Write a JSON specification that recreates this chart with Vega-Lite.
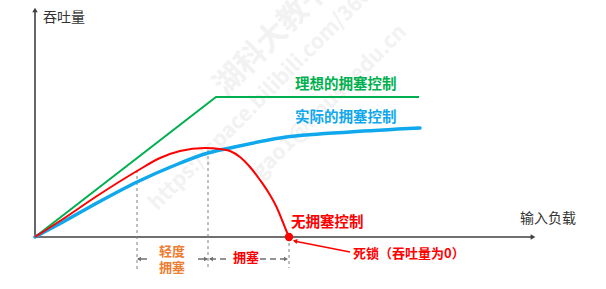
{
  "$schema": "https://vega.github.io/schema/vega-lite/v6.json",
  "width": 606,
  "height": 289,
  "autosize": "none",
  "padding": 0,
  "background": "white",
  "config": {"view": {"stroke": null}, "text": {"font": "Noto Sans CJK SC"}},
  "layer": [
    {
      "data": {"values": [
        {"t": "湖科大教书匠", "x": 248, "y": 210}
      ]},
      "mark": {"type": "text", "align": "center", "baseline": "middle", "angle": -45, "fontSize": 30, "fontWeight": "bold", "color": "#f2f2f2"},
      "encoding": {
        "x": {"field": "x", "type": "quantitative", "scale": {"domain": [-35, 571], "nice": false, "zero": false}, "axis": null},
        "y": {"field": "y", "type": "quantitative", "scale": {"domain": [-52, 237], "nice": false, "zero": false}, "axis": null},
        "text": {"field": "t"}
      }
    },
    {
      "data": {"values": [
        {"t": "https://space.bilibili.com/360996402", "x": 118, "y": 30},
        {"t": "gao1@hnust.edu.cn", "x": 222, "y": 62}
      ]},
      "mark": {"type": "text", "align": "left", "baseline": "middle", "angle": -45, "fontSize": 21, "fontWeight": "bold", "color": "#f2f2f2"},
      "encoding": {
        "x": {"field": "x", "type": "quantitative", "scale": {"domain": [-35, 571], "nice": false, "zero": false}, "axis": null},
        "y": {"field": "y", "type": "quantitative", "scale": {"domain": [-52, 237], "nice": false, "zero": false}, "axis": null},
        "text": {"field": "t"}
      }
    },
    {
      "data": {"values": [
        {"x": 0, "y": 0, "x2": 0, "y2": 226},
        {"x": 0, "y": 0, "x2": 496, "y2": 0}
      ]},
      "mark": {"type": "rule", "color": "#404040", "strokeWidth": 1.6},
      "encoding": {
        "x": {"field": "x", "type": "quantitative", "scale": {"domain": [-35, 571], "nice": false, "zero": false}, "axis": null},
        "y": {"field": "y", "type": "quantitative", "scale": {"domain": [-52, 237], "nice": false, "zero": false}, "axis": null},
        "x2": {"field": "x2"},
        "y2": {"field": "y2"}
      }
    },
    {
      "data": {"values": [
        {"x": 0, "y": 227, "dir": "up"},
        {"x": 498, "y": 0, "dir": "right"}
      ]},
      "mark": {"type": "point", "filled": true, "color": "#404040", "size": 30, "opacity": 1},
      "encoding": {
        "x": {"field": "x", "type": "quantitative", "scale": {"domain": [-35, 571], "nice": false, "zero": false}, "axis": null},
        "y": {"field": "y", "type": "quantitative", "scale": {"domain": [-52, 237], "nice": false, "zero": false}, "axis": null},
        "shape": {"field": "dir", "type": "nominal", "scale": {"domain": ["up", "right", "left"], "range": ["triangle-up", "triangle-right", "triangle-left"]}, "legend": null}
      }
    },
    {
      "data": {"values": [
        {"x": 102, "y": 67, "y2": -33},
        {"x": 173, "y": 87, "y2": -31},
        {"x": 254, "y": 0, "y2": -31}
      ]},
      "mark": {"type": "rule", "color": "#808080", "strokeWidth": 1, "strokeDash": [3, 3]},
      "encoding": {
        "x": {"field": "x", "type": "quantitative", "scale": {"domain": [-35, 571], "nice": false, "zero": false}, "axis": null},
        "y": {"field": "y", "type": "quantitative", "scale": {"domain": [-52, 237], "nice": false, "zero": false}, "axis": null},
        "y2": {"field": "y2"}
      }
    },
    {
      "data": {"values": [
        {"x": 103, "x2": 112, "y": -22},
        {"x": 163, "x2": 172, "y": -22}
      ]},
      "mark": {"type": "rule", "color": "#707070", "strokeWidth": 1.5},
      "encoding": {
        "x": {"field": "x", "type": "quantitative", "scale": {"domain": [-35, 571], "nice": false, "zero": false}, "axis": null},
        "y": {"field": "y", "type": "quantitative", "scale": {"domain": [-52, 237], "nice": false, "zero": false}, "axis": null},
        "x2": {"field": "x2"}
      }
    },
    {
      "data": {"values": [
        {"x": 175, "x2": 194, "y": -22},
        {"x": 225, "x2": 252, "y": -22}
      ]},
      "mark": {"type": "rule", "color": "#707070", "strokeWidth": 1.5, "strokeDash": [6, 4]},
      "encoding": {
        "x": {"field": "x", "type": "quantitative", "scale": {"domain": [-35, 571], "nice": false, "zero": false}, "axis": null},
        "y": {"field": "y", "type": "quantitative", "scale": {"domain": [-52, 237], "nice": false, "zero": false}, "axis": null},
        "x2": {"field": "x2"}
      }
    },
    {
      "data": {"values": [
        {"x": 104, "y": -22, "dir": "left"},
        {"x": 171, "y": -22, "dir": "right"},
        {"x": 176, "y": -22, "dir": "left"},
        {"x": 251, "y": -22, "dir": "right"}
      ]},
      "mark": {"type": "point", "filled": true, "color": "#707070", "size": 22, "opacity": 1},
      "encoding": {
        "x": {"field": "x", "type": "quantitative", "scale": {"domain": [-35, 571], "nice": false, "zero": false}, "axis": null},
        "y": {"field": "y", "type": "quantitative", "scale": {"domain": [-52, 237], "nice": false, "zero": false}, "axis": null},
        "shape": {"field": "dir", "type": "nominal", "scale": {"domain": ["up", "right", "left"], "range": ["triangle-up", "triangle-right", "triangle-left"]}, "legend": null}
      }
    },
    {
      "data": {"values": [
        {"x": 0, "y": 0}, {"x": 181, "y": 140}, {"x": 384, "y": 140}
      ]},
      "mark": {"type": "line", "color": "#00B050", "strokeWidth": 2},
      "encoding": {
        "x": {"field": "x", "type": "quantitative", "scale": {"domain": [-35, 571], "nice": false, "zero": false}, "axis": null},
        "y": {"field": "y", "type": "quantitative", "scale": {"domain": [-52, 237], "nice": false, "zero": false}, "axis": null}
      }
    },
    {
      "data": {"values": [
        {"x": 0, "y": 0}, {"x": 28, "y": 15}, {"x": 62, "y": 34}, {"x": 102, "y": 55},
        {"x": 138, "y": 71}, {"x": 173, "y": 84}, {"x": 195, "y": 89}, {"x": 245, "y": 99},
        {"x": 315, "y": 105}, {"x": 385, "y": 109}
      ]},
      "mark": {"type": "line", "color": "#10A8EC", "strokeWidth": 3.5, "interpolate": "monotone", "strokeCap": "round"},
      "encoding": {
        "x": {"field": "x", "type": "quantitative", "scale": {"domain": [-35, 571], "nice": false, "zero": false}, "axis": null},
        "y": {"field": "y", "type": "quantitative", "scale": {"domain": [-52, 237], "nice": false, "zero": false}, "axis": null}
      }
    },
    {
      "data": {"values": [
        {"x": 0, "y": 0}, {"x": 28, "y": 18}, {"x": 62, "y": 41}, {"x": 102, "y": 66},
        {"x": 125, "y": 79}, {"x": 145, "y": 86}, {"x": 170, "y": 89}, {"x": 185, "y": 88},
        {"x": 195, "y": 86}, {"x": 205, "y": 80}, {"x": 215, "y": 70}, {"x": 225, "y": 57},
        {"x": 235, "y": 42}, {"x": 242, "y": 29}, {"x": 247, "y": 17}, {"x": 251, "y": 7},
        {"x": 254, "y": 0}
      ]},
      "mark": {"type": "line", "color": "#FF0000", "strokeWidth": 2, "interpolate": "monotone"},
      "encoding": {
        "x": {"field": "x", "type": "quantitative", "scale": {"domain": [-35, 571], "nice": false, "zero": false}, "axis": null},
        "y": {"field": "y", "type": "quantitative", "scale": {"domain": [-52, 237], "nice": false, "zero": false}, "axis": null}
      }
    },
    {
      "data": {"values": [{"x": 259, "y": -4, "x2": 315, "y2": -15}]},
      "mark": {"type": "rule", "color": "#FF0000", "strokeWidth": 1.5},
      "encoding": {
        "x": {"field": "x", "type": "quantitative", "scale": {"domain": [-35, 571], "nice": false, "zero": false}, "axis": null},
        "y": {"field": "y", "type": "quantitative", "scale": {"domain": [-52, 237], "nice": false, "zero": false}, "axis": null},
        "x2": {"field": "x2"},
        "y2": {"field": "y2"}
      }
    },
    {
      "data": {"values": [{"x": 260, "y": -4}]},
      "mark": {"type": "point", "shape": "triangle-left", "angle": 12, "filled": true, "color": "#FF0000", "size": 25, "opacity": 1},
      "encoding": {
        "x": {"field": "x", "type": "quantitative", "scale": {"domain": [-35, 571], "nice": false, "zero": false}, "axis": null},
        "y": {"field": "y", "type": "quantitative", "scale": {"domain": [-52, 237], "nice": false, "zero": false}, "axis": null}
      }
    },
    {
      "data": {"values": [{"x": 254, "y": 0}]},
      "mark": {"type": "point", "shape": "circle", "filled": true, "color": "#FF0000", "size": 70, "opacity": 1},
      "encoding": {
        "x": {"field": "x", "type": "quantitative", "scale": {"domain": [-35, 571], "nice": false, "zero": false}, "axis": null},
        "y": {"field": "y", "type": "quantitative", "scale": {"domain": [-52, 237], "nice": false, "zero": false}, "axis": null}
      }
    },
    {
      "data": {"values": [
        {"t": "吞吐量", "x": 8, "y": 219},
        {"t": "输入负载", "x": 485, "y": 18}
      ]},
      "mark": {"type": "text", "align": "left", "baseline": "middle", "fontSize": 14, "color": "#333333"},
      "encoding": {
        "x": {"field": "x", "type": "quantitative", "scale": {"domain": [-35, 571], "nice": false, "zero": false}, "axis": null},
        "y": {"field": "y", "type": "quantitative", "scale": {"domain": [-52, 237], "nice": false, "zero": false}, "axis": null},
        "text": {"field": "t"}
      }
    },
    {
      "data": {"values": [{"t": "理想的拥塞控制", "x": 260, "y": 152}]},
      "mark": {"type": "text", "align": "left", "baseline": "middle", "fontSize": 14.5, "fontWeight": "bold", "color": "#00B050"},
      "encoding": {
        "x": {"field": "x", "type": "quantitative", "scale": {"domain": [-35, 571], "nice": false, "zero": false}, "axis": null},
        "y": {"field": "y", "type": "quantitative", "scale": {"domain": [-52, 237], "nice": false, "zero": false}, "axis": null},
        "text": {"field": "t"}
      }
    },
    {
      "data": {"values": [{"t": "实际的拥塞控制", "x": 260, "y": 119}]},
      "mark": {"type": "text", "align": "left", "baseline": "middle", "fontSize": 14.5, "fontWeight": "bold", "color": "#10A8EC"},
      "encoding": {
        "x": {"field": "x", "type": "quantitative", "scale": {"domain": [-35, 571], "nice": false, "zero": false}, "axis": null},
        "y": {"field": "y", "type": "quantitative", "scale": {"domain": [-52, 237], "nice": false, "zero": false}, "axis": null},
        "text": {"field": "t"}
      }
    },
    {
      "data": {"values": [
        {"t": "无拥塞控制", "x": 256, "y": 14}
      ]},
      "mark": {"type": "text", "align": "left", "baseline": "middle", "fontSize": 14.5, "fontWeight": "bold", "color": "#FF0000"},
      "encoding": {
        "x": {"field": "x", "type": "quantitative", "scale": {"domain": [-35, 571], "nice": false, "zero": false}, "axis": null},
        "y": {"field": "y", "type": "quantitative", "scale": {"domain": [-52, 237], "nice": false, "zero": false}, "axis": null},
        "text": {"field": "t"}
      }
    },
    {
      "data": {"values": [
        {"t": "死锁（吞吐量为0）", "x": 318, "y": -17}
      ]},
      "mark": {"type": "text", "align": "left", "baseline": "middle", "fontSize": 13, "fontWeight": "bold", "color": "#FF0000"},
      "encoding": {
        "x": {"field": "x", "type": "quantitative", "scale": {"domain": [-35, 571], "nice": false, "zero": false}, "axis": null},
        "y": {"field": "y", "type": "quantitative", "scale": {"domain": [-52, 237], "nice": false, "zero": false}, "axis": null},
        "text": {"field": "t"}
      }
    },
    {
      "data": {"values": [
        {"t": "拥塞", "x": 211, "y": -21}
      ]},
      "mark": {"type": "text", "align": "center", "baseline": "middle", "fontSize": 13, "fontWeight": "bold", "color": "#FF0000"},
      "encoding": {
        "x": {"field": "x", "type": "quantitative", "scale": {"domain": [-35, 571], "nice": false, "zero": false}, "axis": null},
        "y": {"field": "y", "type": "quantitative", "scale": {"domain": [-52, 237], "nice": false, "zero": false}, "axis": null},
        "text": {"field": "t"}
      }
    },
    {
      "data": {"values": [
        {"t": "轻度", "x": 137, "y": -15},
        {"t": "拥塞", "x": 137, "y": -31}
      ]},
      "mark": {"type": "text", "align": "center", "baseline": "middle", "fontSize": 13, "fontWeight": "bold", "color": "#ED7D31"},
      "encoding": {
        "x": {"field": "x", "type": "quantitative", "scale": {"domain": [-35, 571], "nice": false, "zero": false}, "axis": null},
        "y": {"field": "y", "type": "quantitative", "scale": {"domain": [-52, 237], "nice": false, "zero": false}, "axis": null},
        "text": {"field": "t"}
      }
    }
  ]
}
